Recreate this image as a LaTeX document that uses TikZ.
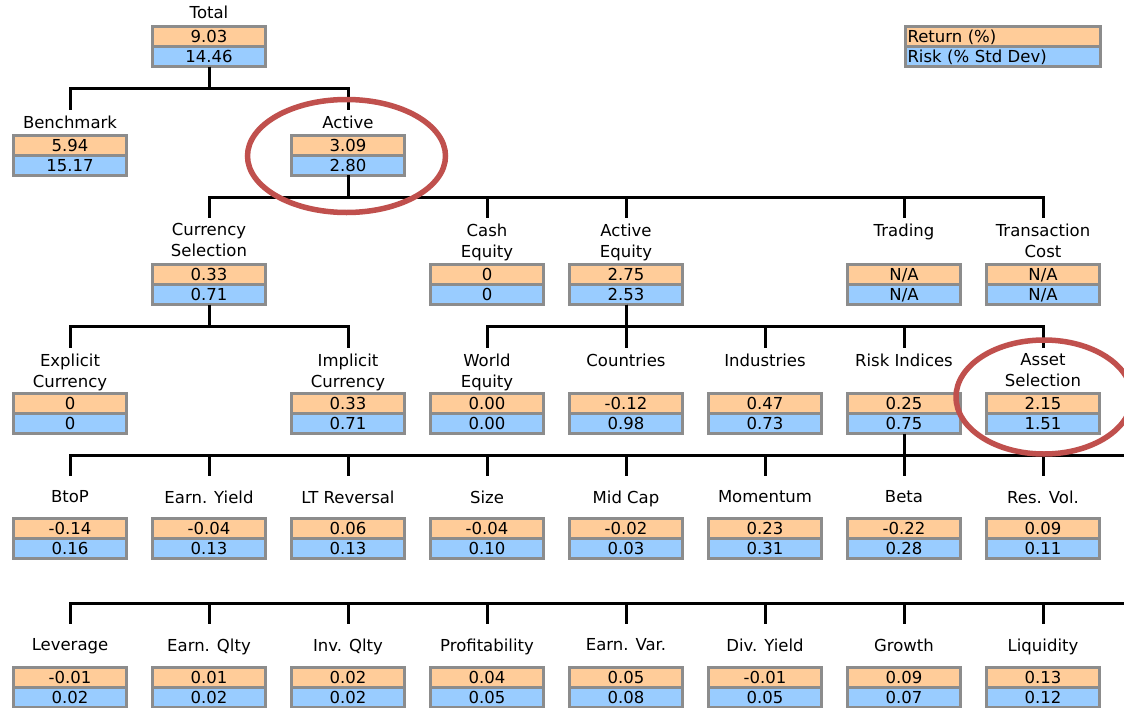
\documentclass[tikz,border=0pt]{standalone}
\usepackage{fontspec}
\setmainfont{DejaVu Sans}
\usetikzlibrary{positioning}
\definecolor{retorange}{HTML}{FFCC99}
\definecolor{riskblue}{HTML}{99CCFF}
\definecolor{boxgray}{HTML}{8C8C8C}
\definecolor{hired}{HTML}{C0504D}

\begin{document}
\begin{tikzpicture}[x=1pt,y=-1pt,
  lbl/.style={anchor=north,inner xsep=1pt,inner ysep=5.5pt,align=center,font=\fontsize{16.5}{21}\selectfont},
  lbllow/.style={lbl,inner ysep=14.5pt},
  cell/.style={draw=boxgray,line width=3pt,minimum width=113pt,minimum height=20pt,inner sep=0pt,outer sep=0pt,text height=12pt,text depth=0pt,font=\fontsize{16.5}{18}\selectfont},
  ret/.style={cell,fill=retorange,anchor=north},
  risk/.style={cell,fill=riskblue},
  legcell/.style={minimum width=195pt,text width=191pt,inner xsep=2pt,align=left},
  link/.style={line width=3pt},
  circled/.style={draw=hired,line width=5.5pt}]

\useasboundingbox (0,0) rectangle (1124,707);
\fill[white] (0,0) rectangle (1124,707);

% legend
\node[ret,legcell] (legR) at (1003,26.5) {Return (\%)};
\node[risk,legcell,below=0pt of legR] (legS) {Risk (\% Std Dev)};

% total
\node[lbl] (totL) at (209,0) {Total};
\node[ret] (totR) at (209,26.5) {9.03};
\node[risk,below=0pt of totR] (totS) {14.46};

% benchmark / active
\node[lbl] (bmkL) at (70,110) {Benchmark};
\node[ret] (bmkR) at (70,135) {5.94};
\node[risk,below=0pt of bmkR] (bmkS) {15.17};

\node[lbl] (actL) at (348,110) {Active};
\node[ret] (actR) at (348,135) {3.09};
\node[risk,below=0pt of actR] (actS) {2.80};

% active split
\node[lbl] (curL) at (209,218) {Currency\\Selection};
\node[ret] (curR) at (209,264.5) {0.33};
\node[risk,below=0pt of curR] (curS) {0.71};

\node[lbl] (cashL) at (487,218) {Cash\\Equity};
\node[ret] (cashR) at (487,264.5) {0};
\node[risk,below=0pt of cashR] (cashS) {0};

\node[lbl] (acteqL) at (626,218) {Active\\Equity};
\node[ret] (acteqR) at (626,264.5) {2.75};
\node[risk,below=0pt of acteqR] (acteqS) {2.53};

\node[lbl] (trdL) at (904,218) {Trading};
\node[ret] (trdR) at (904,264.5) {N/A};
\node[risk,below=0pt of trdR] (trdS) {N/A};

\node[lbl] (tcostL) at (1043,218) {Transaction\\Cost};
\node[ret] (tcostR) at (1043,264.5) {N/A};
\node[risk,below=0pt of tcostR] (tcostS) {N/A};

% currency and equity split
\node[lbl] (explL) at (70,348) {Explicit\\Currency};
\node[ret] (explR) at (70,393.5) {0};
\node[risk,below=0pt of explR] (explS) {0};

\node[lbl] (implL) at (348,348) {Implicit\\Currency};
\node[ret] (implR) at (348,393.5) {0.33};
\node[risk,below=0pt of implR] (implS) {0.71};

\node[lbl] (worldL) at (487,348) {World\\Equity};
\node[ret] (worldR) at (487,393.5) {0.00};
\node[risk,below=0pt of worldR] (worldS) {0.00};

\node[lbl] (ctryL) at (626,348) {Countries};
\node[ret] (ctryR) at (626,393.5) {-0.12};
\node[risk,below=0pt of ctryR] (ctryS) {0.98};

\node[lbl] (indL) at (765,348) {Industries};
\node[ret] (indR) at (765,393.5) {0.47};
\node[risk,below=0pt of indR] (indS) {0.73};

\node[lbl] (riL) at (904,348) {Risk Indices};
\node[ret] (riR) at (904,393.5) {0.25};
\node[risk,below=0pt of riR] (riS) {0.75};

\node[lbl] (assetL) at (1043,348) {Asset\\Selection};
\node[ret] (assetR) at (1043,393.5) {2.15};
\node[risk,below=0pt of assetR] (assetS) {1.51};

% risk indices, first row
\node[lbllow] (btopL) at (70,476) {BtoP};
\node[ret] (btopR) at (70,518.5) {-0.14};
\node[risk,below=0pt of btopR] (btopS) {0.16};

\node[lbllow] (eyldL) at (209,476) {Earn. Yield};
\node[ret] (eyldR) at (209,518.5) {-0.04};
\node[risk,below=0pt of eyldR] (eyldS) {0.13};

\node[lbllow] (ltrevL) at (348,476) {LT Reversal};
\node[ret] (ltrevR) at (348,518.5) {0.06};
\node[risk,below=0pt of ltrevR] (ltrevS) {0.13};

\node[lbllow] (sizeL) at (487,476) {Size};
\node[ret] (sizeR) at (487,518.5) {-0.04};
\node[risk,below=0pt of sizeR] (sizeS) {0.10};

\node[lbllow] (midcapL) at (626,476) {Mid Cap};
\node[ret] (midcapR) at (626,518.5) {-0.02};
\node[risk,below=0pt of midcapR] (midcapS) {0.03};

\node[lbllow] (momL) at (765,476) {Momentum};
\node[ret] (momR) at (765,518.5) {0.23};
\node[risk,below=0pt of momR] (momS) {0.31};

\node[lbllow] (betaL) at (904,476) {Beta};
\node[ret] (betaR) at (904,518.5) {-0.22};
\node[risk,below=0pt of betaR] (betaS) {0.28};

\node[lbllow] (resvolL) at (1043,476) {Res. Vol.};
\node[ret] (resvolR) at (1043,518.5) {0.09};
\node[risk,below=0pt of resvolR] (resvolS) {0.11};

% risk indices, second row
\node[lbllow] (levL) at (70,624) {Leverage};
\node[ret] (levR) at (70,667.5) {-0.01};
\node[risk,below=0pt of levR] (levS) {0.02};

\node[lbllow] (eqltyL) at (209,624) {Earn. Qlty};
\node[ret] (eqltyR) at (209,667.5) {0.01};
\node[risk,below=0pt of eqltyR] (eqltyS) {0.02};

\node[lbllow] (iqltyL) at (348,624) {Inv. Qlty};
\node[ret] (iqltyR) at (348,667.5) {0.02};
\node[risk,below=0pt of iqltyR] (iqltyS) {0.02};

\node[lbllow] (profL) at (487,624) {Profitability};
\node[ret] (profR) at (487,667.5) {0.04};
\node[risk,below=0pt of profR] (profS) {0.05};

\node[lbllow] (evarL) at (626,624) {Earn. Var.};
\node[ret] (evarR) at (626,667.5) {0.05};
\node[risk,below=0pt of evarR] (evarS) {0.08};

\node[lbllow] (divyL) at (765,624) {Div. Yield};
\node[ret] (divyR) at (765,667.5) {-0.01};
\node[risk,below=0pt of divyR] (divyS) {0.05};

\node[lbllow] (growL) at (904,624) {Growth};
\node[ret] (growR) at (904,667.5) {0.09};
\node[risk,below=0pt of growR] (growS) {0.07};

\node[lbllow] (liqL) at (1043,624) {Liquidity};
\node[ret] (liqR) at (1043,667.5) {0.13};
\node[risk,below=0pt of liqR] (liqS) {0.12};

\coordinate (edge1) at (1124,455);
\coordinate (edge2) at (1124,603);

\draw[link] (totS.south) -- ++(0,22) -| (bmkL.north);
\draw[link] (totS.south) -- ++(0,22) -| (actL.north);

\draw[link] (actS.south) -- ++(0,22) -| (curL.north);
\draw[link] (actS.south) -- ++(0,22) -| (cashL.north);
\draw[link] (actS.south) -- ++(0,22) -| (acteqL.north);
\draw[link] (actS.south) -- ++(0,22) -| (trdL.north);
\draw[link] (actS.south) -- ++(0,22) -| (tcostL.north);

\draw[link] (curS.south) -- ++(0,22) -| (explL.north);
\draw[link] (curS.south) -- ++(0,22) -| (implL.north);

\draw[link] (acteqS.south) -- ++(0,22) -| (worldL.north);
\draw[link] (acteqS.south) -- ++(0,22) -| (ctryL.north);
\draw[link] (acteqS.south) -- ++(0,22) -| (indL.north);
\draw[link] (acteqS.south) -- ++(0,22) -| (riL.north);
\draw[link] (acteqS.south) -- ++(0,22) -| (assetL.north);

\draw[link] (riS.south) |- (edge1);
\draw[link] (edge1) -| (btopL.north);
\draw[link] (edge1) -| (eyldL.north);
\draw[link] (edge1) -| (ltrevL.north);
\draw[link] (edge1) -| (sizeL.north);
\draw[link] (edge1) -| (midcapL.north);
\draw[link] (edge1) -| (momL.north);
\draw[link] (edge1) -| (betaL.north);
\draw[link] (edge1) -| (resvolL.north);

\draw[link] (edge2) -| (levL.north);
\draw[link] (edge2) -| (eqltyL.north);
\draw[link] (edge2) -| (iqltyL.north);
\draw[link] (edge2) -| (profL.north);
\draw[link] (edge2) -| (evarL.north);
\draw[link] (edge2) -| (divyL.north);
\draw[link] (edge2) -| (growL.north);
\draw[link] (edge2) -| (liqL.north);

% highlights
\draw[circled] (346.5,156) ellipse [x radius=99pt, y radius=56.5pt];
\draw[circled] (1044,397) ellipse [x radius=88pt, y radius=57pt];
\end{tikzpicture}
\end{document}
